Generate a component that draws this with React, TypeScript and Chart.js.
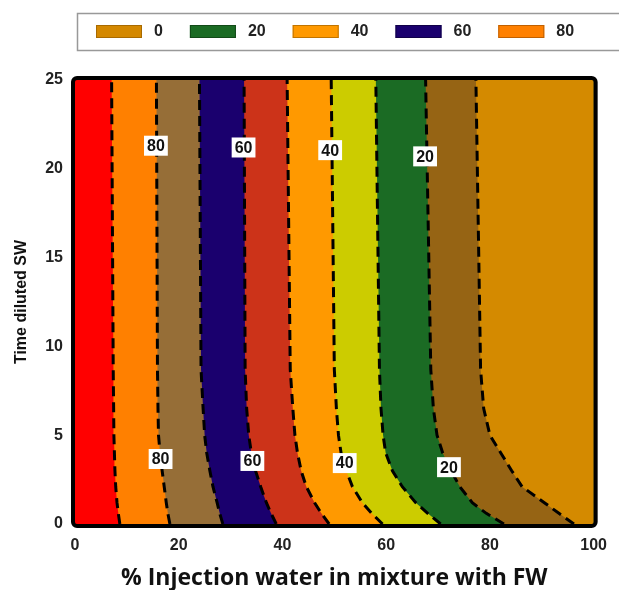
import React, { useEffect, useRef } from 'react';
import { Chart, registerables } from 'chart.js';

Chart.register(...registerables);

// Time levels (y axis) at which each contour line position was read
const timeLevels = [0, 0.6, 1.2, 2.1, 3, 4, 5, 6.5, 8.7, 25];

// x position (% injection water) of each contour line at the time levels above
const contour90 = [8.65, 8.35, 8.1, 7.85, 7.7, 7.6, 7.5, 7.45, 7.37, 7.06];
const contour80 = [18.3, 17.9, 17.6, 17.2, 16.8, 16.4, 16.1, 16.0, 15.9, 15.7];
const contour70 = [28.5, 27.9, 27.4, 26.6, 26.0, 25.4, 25.0, 24.7, 24.3, 24.0];
const contour60 = [38.8, 37.8, 36.9, 35.8, 34.8, 34.0, 33.5, 33.1, 32.8, 32.6];
const contour50 = [49.0, 47.5, 46.2, 44.6, 43.6, 42.9, 42.4, 42.0, 41.5, 40.9];
const contour40 = [59.3, 57.2, 55.4, 53.5, 52.3, 51.3, 50.8, 50.4, 50.0, 49.4];
const contour30 = [70.5, 68.0, 65.7, 63.1, 61.2, 59.9, 59.4, 59.0, 58.7, 58.0];
const contour20 = [82.7, 79.3, 76.6, 74.2, 72.5, 70.9, 69.8, 69.1, 68.6, 67.6];
const contour10 = [96.2, 93.3, 90.5, 86.2, 84.2, 82.1, 80.0, 78.8, 78.2, 77.3];

const contours = [contour90, contour80, contour70, contour60, contour50, contour40, contour30, contour20, contour10];

// Band fill colours, from left (high) to right (low)
const bandColors = ['#FF0000', '#FF8000', '#966E37', '#1A006E', '#CC3319', '#FF9900', '#CCCC00', '#1B6B24', '#966414', '#D48A00'];

// Legend
const legendLabels = ['0', '20', '40', '60', '80'];
const legendColors = ['#D48800', '#1B6B24', '#FF9900', '#1A006E', '#FF8000'];
const legendBorders = ['#A86A00', '#124A18', '#C07400', '#100048', '#C06000'];

// Contour labels
const labelTexts = ['80', '60', '40', '20', '80', '60', '40', '20'];
const labelX = [15.6, 32.5, 49.2, 67.5, 16.5, 34.2, 52.0, 72.1];
const labelT = [21.3, 21.2, 21.05, 20.7, 3.66, 3.55, 3.43, 3.2];

// Axis
const xTitle = '% Injection water in mixture with FW';
const yTitle = 'Time diluted SW';

const SANS = '"Liberation Sans", Arial, sans-serif';

const legendPlugin = {
  id: 'boxLegend',
  afterDraw(chart: any) {
    const ctx = chart.ctx;
    ctx.save();
    ctx.strokeStyle = '#999';
    ctx.lineWidth = 1.5;
    ctx.strokeRect(77.5, 13.5, 560, 37);
    ctx.font = `bold 16px ${SANS}`;
    ctx.textBaseline = 'middle';
    ctx.textAlign = 'left';
    let x = 96;
    legendLabels.forEach((lab, i) => {
      ctx.fillStyle = legendColors[i];
      ctx.fillRect(x, 25, 46, 13);
      ctx.strokeStyle = legendBorders[i];
      ctx.lineWidth = 1;
      ctx.strokeRect(x + 0.5, 25.5, 45, 12);
      ctx.fillStyle = '#222';
      ctx.fillText(lab, x + 58, 32);
      x += 58 + ctx.measureText(lab).width + 27;
    });
    ctx.restore();
  },
};

const labelPlugin = {
  id: 'contourLabels',
  afterDatasetsDraw(chart: any) {
    const ctx = chart.ctx;
    const xs = chart.scales.x;
    const ys = chart.scales.y;
    ctx.save();
    ctx.font = `bold 16px ${SANS}`;
    ctx.textAlign = 'center';
    ctx.textBaseline = 'middle';
    labelTexts.forEach((t, i) => {
      const px = xs.getPixelForValue(labelX[i]);
      const py = ys.getPixelForValue(labelT[i]);
      const w = ctx.measureText(t).width + 6;
      const h = 20;
      ctx.fillStyle = '#fff';
      ctx.fillRect(px - w / 2, py - h / 2, w, h);
      ctx.fillStyle = '#111';
      ctx.fillText(t, px, py + 1);
    });
    ctx.restore();
  },
  afterDraw(chart: any) {
    const { left, top, right, bottom } = chart.chartArea;
    const ctx = chart.ctx;
    ctx.save();
    ctx.strokeStyle = '#000';
    ctx.lineWidth = 4;
    ctx.beginPath();
    ctx.roundRect(left - 2, top - 2, right - left + 4, bottom - top + 4, 4);
    ctx.stroke();
    ctx.restore();
  },
};

export default function App() {
  const ref = useRef<HTMLCanvasElement | null>(null);

  useEffect(() => {
    if (!ref.current) return;

    const lineSets = contours.map((c) => ({
      data: timeLevels.map((t, i) => ({ x: c[i], y: t })),
      borderColor: '#000',
      borderWidth: 3,
      borderDash: [10, 6],
      pointRadius: 0,
      fill: false,
      tension: 0,
    }));

    const bandSets = bandColors.map((col, k) => {
      const left = k === 0 ? timeLevels.map(() => 0) : contours[k - 1];
      const pts = timeLevels.map((t, i) => ({ x: left[i], y: t }));
      pts.push({ x: 100, y: 25 });
      pts.push({ x: 100, y: 0 });
      return {
        data: pts,
        backgroundColor: col,
        borderColor: 'rgba(0,0,0,0)',
        borderWidth: 0,
        showLine: false,
        pointRadius: 0,
        fill: 'shape',
        tension: 0,
      };
    });

    // datasets drawn last-to-first: leftmost band first, contours last
    const datasets = [...lineSets, ...bandSets.slice().reverse()];

    const chart = new Chart(ref.current, {
      type: 'line',
      data: { datasets: datasets as any },
      options: {
        responsive: false,
        animation: false,
        events: [],
        layout: { padding: { top: 80, left: 0, right: 24, bottom: 0 } },
        plugins: {
          legend: { display: false },
          tooltip: { enabled: false },
        },
        scales: {
          x: {
            type: 'linear',
            min: 0,
            max: 100,
            grid: { display: false, drawTicks: false },
            border: { display: false },
            ticks: {
              stepSize: 20,
              padding: 12,
              color: '#222',
              font: { family: SANS, size: 16, weight: 'bold' },
            },
            title: {
              display: true,
              text: xTitle,
              color: '#111',
              font: { family: '"Open Sans", sans-serif', size: 23, weight: 'bold', lineHeight: 1 },
              padding: { top: 0, bottom: 0 },
            },
            afterFit: (s: any) => {
              s.height = 66;
            },
          },
          y: {
            type: 'linear',
            min: 0,
            max: 25,
            grid: { display: false, drawTicks: false },
            border: { display: false },
            ticks: {
              stepSize: 5,
              padding: 12,
              color: '#222',
              font: { family: SANS, size: 16, weight: 'bold' },
            },
            title: {
              display: true,
              text: yTitle,
              color: '#111',
              font: { family: SANS, size: 16, weight: 'bold', lineHeight: 1.2 },
              padding: { top: 12, bottom: 12 },
            },
            afterFit: (s: any) => {
              s.width = 75;
            },
          },
        },
      } as any,
      plugins: [legendPlugin, labelPlugin],
    });

    return () => chart.destroy();
  }, []);

  return (
    <div style={{ position: 'absolute', left: 0, top: 0, width: 619, height: 590, background: '#fff' }}>
      <canvas ref={ref} width={619} height={590} style={{ display: 'block' }} />
    </div>
  );
}
